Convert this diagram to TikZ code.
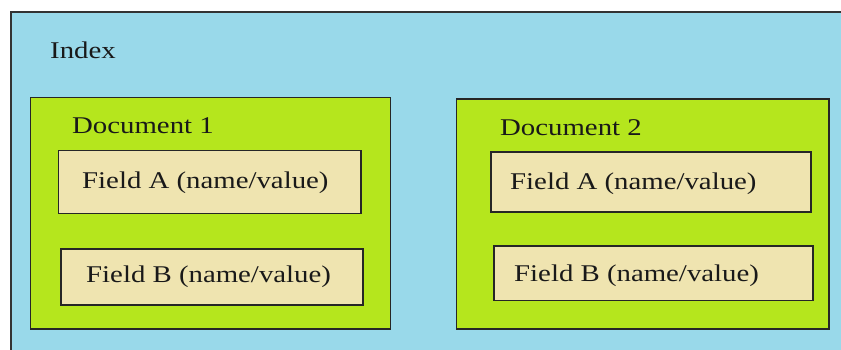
\documentclass[tikz,border=0pt]{standalone}
\usepackage{fontspec}
\usepackage{graphicx}
\setmainfont{Liberation Serif}
\definecolor{idxblue}{RGB}{153,217,234}
\definecolor{docgreen}{RGB}{181,230,29}
\definecolor{fieldbeige}{RGB}{239,228,176}
\newcommand{\wtxt}[1]{\scalebox{1.2}[1]{#1}}
\tikzset{
  idxbox/.style={fill=idxblue, draw=black!80, line width=1.6pt},
  docbox/.style={fill=docgreen, draw=black!85, line width=1.5pt},
  fieldbox/.style={fill=fieldbeige, draw=black!85, line width=1.5pt},
  lbl/.style={anchor=base west, inner sep=0pt, text=black!90, font=\fontsize{24}{28}\selectfont}
}
\begin{document}
\begin{tikzpicture}[x=1pt,y=-1pt]
\useasboundingbox (0,0) rectangle (841,349);
\clip (0,0) rectangle (841,349);
\fill[white] (0,0) rectangle (841,349);
% index
\draw[idxbox] (11,12) rectangle (860,370);
\node[lbl] (index) at (50,58) {\wtxt{Index}};
% document 1
\draw[docbox] (30.5,97.5) rectangle (390.5,329);
\node[lbl] (doc1) at (72,133) {\wtxt{Document 1}};
\draw[fieldbox] (58.5,150.5) rectangle (361,213.5);
\node[lbl] (fa1) at (82,188) {\wtxt{Field A (name/value)}};
\draw[fieldbox] (61,249) rectangle (363,305);
\node[lbl] (fb1) at (86,282) {\wtxt{Field B (name/value)}};
% document 2
\draw[docbox] (456.5,99) rectangle (829,329);
\node[lbl] (doc2) at (500,135) {\wtxt{Document 2}};
\draw[fieldbox] (491,152) rectangle (811,212);
\node[lbl] (fa2) at (510,189) {\wtxt{Field A (name/value)}};
\draw[fieldbox] (494,246) rectangle (813,300.5);
\node[lbl] (fb2) at (514,281.5) {\wtxt{Field B (name/value)}};
\end{tikzpicture}
\end{document}
